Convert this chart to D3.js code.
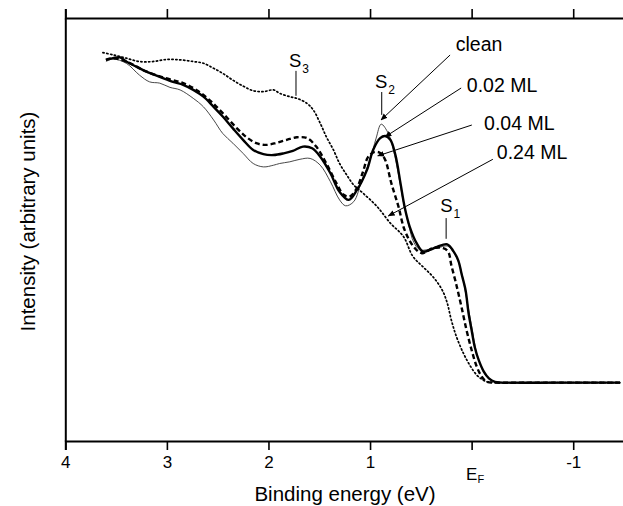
<!DOCTYPE html>
<html>
<head>
<meta charset="utf-8">
<script src="https://cdn.jsdelivr.net/npm/d3@7"></script>
<style>
  html, body { margin: 0; padding: 0; background: #fff; }
  svg { display: block; font-family: "Liberation Sans", Arial, sans-serif; }
</style>
</head>
<body>
<svg id="chart" width="623" height="506"></svg>
<script>
// Photoemission spectra: binding energy (eV) vs. intensity (arbitrary units)
const majorTicks = [4, 3, 2, 1, 0, -1];
const minorTicks = [3.5, 2.5, 1.5, 0.5, -0.5];
const tickLabels = ["4", "3", "2", "1", "E_F", "-1"];

// [binding energy, intensity]
const clean = [
  [3.60, 8.97], [3.53, 9.03], [3.40, 8.93], [3.27, 8.65], [3.17, 8.49], [3.07, 8.46],
  [2.97, 8.36], [2.87, 8.30], [2.74, 8.10], [2.64, 7.90], [2.54, 7.59], [2.45, 7.27],
  [2.35, 7.04], [2.25, 6.80], [2.15, 6.56], [2.05, 6.48], [1.95, 6.52], [1.89, 6.56],
  [1.79, 6.60], [1.69, 6.66], [1.59, 6.68], [1.49, 6.52], [1.39, 6.13], [1.30, 5.70],
  [1.24, 5.56], [1.16, 5.66], [1.08, 6.17], [1.00, 6.64], [0.94, 7.16], [0.89, 7.49],
  [0.82, 7.27], [0.77, 6.88], [0.72, 6.29], [0.67, 5.63], [0.62, 5.11], [0.57, 4.70],
  [0.51, 4.52], [0.44, 4.52], [0.34, 4.56], [0.24, 4.61], [0.18, 4.47], [0.13, 4.23],
  [0.09, 3.90], [0.06, 3.50], [0.02, 2.98], [-0.01, 2.58], [-0.04, 2.17], [-0.08, 1.84],
  [-0.13, 1.58], [-0.19, 1.44], [-0.28, 1.38], [-0.60, 1.38], [-1.00, 1.38], [-1.46, 1.38]
];

const ml002 = [
  [3.60, 9.01], [3.53, 9.05], [3.46, 9.07], [3.40, 8.97], [3.30, 8.85], [3.20, 8.73],
  [3.07, 8.61], [2.94, 8.49], [2.84, 8.42], [2.74, 8.30], [2.64, 8.14], [2.54, 7.90],
  [2.45, 7.67], [2.35, 7.39], [2.25, 7.12], [2.15, 6.88], [2.05, 6.78], [1.95, 6.76],
  [1.85, 6.80], [1.76, 6.86], [1.66, 6.96], [1.57, 6.92], [1.49, 6.72], [1.39, 6.33],
  [1.30, 5.89], [1.21, 5.70], [1.13, 5.93], [1.03, 6.41], [0.97, 6.88], [0.90, 7.16],
  [0.85, 7.21], [0.80, 7.12], [0.75, 6.76], [0.70, 6.09], [0.66, 5.54], [0.61, 5.07],
  [0.54, 4.67], [0.48, 4.48], [0.41, 4.52], [0.34, 4.59], [0.24, 4.65], [0.18, 4.49],
  [0.13, 4.26], [0.10, 3.96], [0.06, 3.57], [0.03, 3.02], [0.00, 2.62], [-0.03, 2.23],
  [-0.07, 1.91], [-0.12, 1.64], [-0.17, 1.48], [-0.23, 1.40], [-0.41, 1.38],
  [-0.80, 1.38], [-1.20, 1.38], [-1.46, 1.38]
];

const ml004 = [
  [3.60, 9.01], [3.53, 9.05], [3.40, 8.97], [3.20, 8.73], [3.00, 8.57], [2.84, 8.46],
  [2.71, 8.30], [2.58, 8.06], [2.45, 7.75], [2.31, 7.39], [2.22, 7.19], [2.12, 7.04],
  [2.02, 7.00], [1.92, 7.05], [1.82, 7.12], [1.72, 7.18], [1.62, 7.16], [1.53, 6.96],
  [1.43, 6.56], [1.33, 6.09], [1.26, 5.82], [1.20, 5.78], [1.13, 5.98], [1.07, 6.36],
  [1.02, 6.71], [0.96, 6.83], [0.90, 6.81], [0.85, 6.64], [0.79, 6.09], [0.72, 5.54],
  [0.66, 4.99], [0.57, 4.59], [0.49, 4.44], [0.38, 4.56], [0.28, 4.56], [0.23, 4.47],
  [0.20, 4.16], [0.15, 3.69], [0.10, 3.17], [0.05, 2.62], [0.00, 2.15], [-0.05, 1.76],
  [-0.10, 1.52], [-0.15, 1.40], [-0.23, 1.38], [-0.60, 1.38], [-1.00, 1.38], [-1.46, 1.38]
];

const ml024 = [
  [3.63, 9.18], [3.53, 9.13], [3.40, 9.05], [3.27, 8.97], [3.14, 8.97], [3.00, 9.02],
  [2.87, 9.01], [2.74, 8.97], [2.64, 8.93], [2.54, 8.81], [2.45, 8.69], [2.35, 8.53],
  [2.25, 8.39], [2.15, 8.28], [2.05, 8.26], [1.95, 8.30], [1.89, 8.22], [1.79, 8.14],
  [1.72, 8.10], [1.62, 7.98], [1.56, 7.83], [1.49, 7.51], [1.43, 7.19], [1.36, 6.88],
  [1.30, 6.56], [1.23, 6.29], [1.16, 6.05], [1.07, 5.86], [0.93, 5.54], [0.80, 5.15],
  [0.67, 4.83], [0.58, 4.37], [0.48, 4.12], [0.38, 3.88], [0.29, 3.57], [0.24, 3.26],
  [0.20, 2.86], [0.15, 2.47], [0.08, 2.07], [0.01, 1.76], [-0.05, 1.56], [-0.10, 1.46],
  [-0.15, 1.40], [-0.23, 1.38], [-0.60, 1.38], [-1.00, 1.38], [-1.46, 1.38]
];

const seriesNames = ["clean", "0.02 ML", "0.04 ML", "0.24 ML"];
const seriesData = [clean, ml002, ml004, ml024];

// label text anchor [E, I], arrow start [E, I], arrow tip [E, I]
const labelAt = [[0.156, 9.23], [0.047, 8.25], [-0.123, 7.35], [-0.248, 6.67]];
const arrowFrom = [[0.212, 9.125], [0.103, 8.345], [-0.002, 7.47], [-0.209, 6.66]];
const arrowTo = [[0.892, 7.59], [0.852, 7.19], [0.924, 6.74], [0.82, 5.32]];

// surface-state markers: name, subscript, text anchor [E, I], tick line E, I from, I to
const stateNames = ["S", "S", "S"];
const stateSubs = ["3", "2", "1"];
const stateText = [[1.798, 8.84], [0.951, 8.35], [0.31, 5.41]];
const stateLine = [[1.729, 8.75, 8.16], [0.885, 8.25, 7.71], [0.251, 5.27, 4.78]];

const styles = [
  { width: 0.9, dash: null, color: "#333" },
  { width: 2.4, dash: null, color: "#000" },
  { width: 2.4, dash: "5,3", color: "#000" },
  { width: 1.7, dash: "1.3,2.6", color: "#000" }
];

const svg = d3.select("#chart");
const mLeft = 65.3, mRight = 624, mTop = 18, mBottom = 441;

const x = d3.scaleLinear().domain([4, -1.5]).range([mLeft, mRight]);
const y = d3.scaleLinear().domain([0, 10]).range([mBottom, mTop]);

// axes
const fmt = (d) => tickLabels[majorTicks.indexOf(d)];
const gBottom = svg.append("g").attr("transform", `translate(0,${mBottom})`);
gBottom.call(d3.axisBottom(x).tickValues(minorTicks).tickSize(5).tickFormat(""));
gBottom.call(d3.axisBottom(x).tickValues(majorTicks).tickSize(9).tickPadding(6).tickFormat(fmt));
const gTop = svg.append("g").attr("transform", `translate(0,${mTop})`);
gTop.call(d3.axisTop(x).tickValues(minorTicks).tickSize(5).tickFormat(""));
gTop.call(d3.axisTop(x).tickValues(majorTicks).tickSize(9).tickFormat(""));
const gLeft = svg.append("g").attr("transform", `translate(${mLeft},0)`);
gLeft.call(d3.axisLeft(y).tickValues([]).tickSizeOuter(0));

svg.selectAll(".domain").attr("stroke", "#000").attr("stroke-width", 2);
svg.selectAll(".tick line").attr("stroke", "#000").attr("stroke-width", 1.6);
svg.selectAll(".tick text").attr("font-size", 17).attr("fill", "#000")
  .attr("font-family", "Liberation Sans, Arial, sans-serif");

// E_F label with subscript
gBottom.selectAll(".tick text").each(function (d) {
  const t = d3.select(this);
  if (fmt(d) === "E_F") {
    t.text("").attr("dy", "1.4em").attr("dx", 3);
    t.append("tspan").text("E");
    t.append("tspan").text("F").attr("font-size", 11).attr("dy", "0.25em");
  }
});

// axis titles
svg.append("text")
  .attr("x", 345).attr("y", 501)
  .attr("text-anchor", "middle").attr("font-size", 20.5)
  .text("Binding energy (eV)");
svg.append("text")
  .attr("transform", "translate(35,221.5) rotate(-90)")
  .attr("text-anchor", "middle").attr("font-size", 20.5)
  .text("Intensity (arbitrary units)");

// spectra
const line = d3.line().x((d) => x(d[0])).y((d) => y(d[1])).curve(d3.curveCatmullRom.alpha(0.5));
seriesData.forEach((data, i) => {
  const s = styles[i];
  svg.append("path").datum(data)
    .attr("d", line)
    .attr("fill", "none")
    .attr("stroke", s.color)
    .attr("stroke-width", s.width)
    .attr("stroke-linejoin", "round")
    .attr("stroke-linecap", i === 3 ? "round" : "butt")
    .attr("stroke-dasharray", s.dash);
});

// arrowhead
svg.append("defs").append("marker")
  .attr("id", "head").attr("viewBox", "0 0 10 10")
  .attr("refX", 9).attr("refY", 5)
  .attr("markerWidth", 7).attr("markerHeight", 7)
  .attr("markerUnits", "userSpaceOnUse")
  .attr("orient", "auto")
  .append("path").attr("d", "M0,1 L10,5 L0,9 Z").attr("fill", "#000");

// series labels with arrows
seriesNames.forEach((name, i) => {
  svg.append("line")
    .attr("x1", x(arrowFrom[i][0])).attr("y1", y(arrowFrom[i][1]))
    .attr("x2", x(arrowTo[i][0])).attr("y2", y(arrowTo[i][1]))
    .attr("stroke", "#000").attr("stroke-width", 1)
    .attr("marker-end", "url(#head)");
  svg.append("text")
    .attr("x", x(labelAt[i][0])).attr("y", y(labelAt[i][1]))
    .attr("font-size", 19.5).text(name);
});

// surface-state markers
stateNames.forEach((name, i) => {
  const t = svg.append("text")
    .attr("x", x(stateText[i][0])).attr("y", y(stateText[i][1]))
    .attr("font-size", 18.5);
  t.append("tspan").text(name);
  t.append("tspan").text(stateSubs[i]).attr("font-size", 12).attr("dy", 6).attr("dx", 1);
  svg.append("line")
    .attr("x1", x(stateLine[i][0])).attr("x2", x(stateLine[i][0]))
    .attr("y1", y(stateLine[i][1])).attr("y2", y(stateLine[i][2]))
    .attr("stroke", "#000").attr("stroke-width", 1);
});
</script>
</body>
</html>
